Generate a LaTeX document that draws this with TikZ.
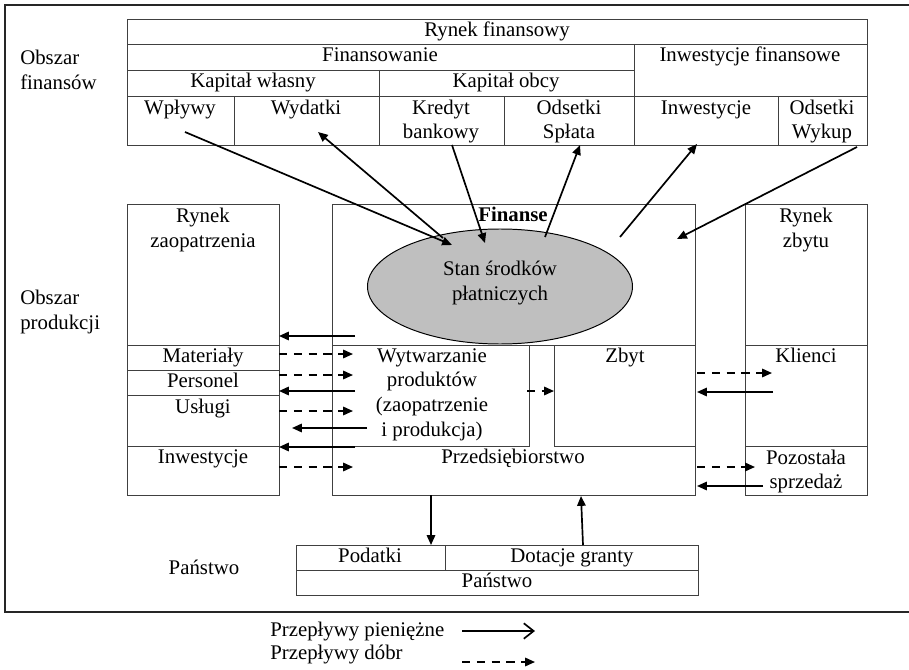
\documentclass[tikz,border=0pt]{standalone}
\usepackage{fontspec}
\setmainfont{Liberation Serif}
\usetikzlibrary{arrows.meta}
\begin{document}
\begin{tikzpicture}[x=0.025cm,y=-0.025cm,
    mtxt/.style={inner sep=0pt,align=center,font=\fontsize{14.8}{17.5}\selectfont},
    txt/.style={mtxt,text height=0.85em,text depth=0.22em},
    grid/.style={draw=black!75,line width=0.7pt},
    money/.style={line width=1.2pt,-{Triangle[length=7pt,width=6pt]}},
    goods/.style={money,dash pattern=on 6pt off 4.5pt}]
    \useasboundingbox (0,0) rectangle (909,670);
    % frame
    \draw[line width=1.4pt,black!85] (915,5) -- (5,5) -- (5,612) -- (915,612);
    % obszar finansow
    \node[mtxt,align=left,anchor=west] (obfin) at (20,70) {Obszar\\finansów};
    \draw[grid] (127,19) rectangle (867,145);
    \draw[grid] (127,44) -- (867,44) (127,70) -- (634,70) (127,96) -- (867,96);
    \draw[grid] (634,44) -- (634,145) (379,70) -- (379,145)
                (234,96) -- (234,145) (504,96) -- (504,145) (778,96) -- (778,145);
    \node[txt] (rynfin) at (497,32) {Rynek finansowy};
    \node[txt] (finans) at (380,57) {Finansowanie};
    \node[txt] (invfin) at (750,57) {Inwestycje finansowe};
    \node[txt] (kapwl) at (253,83) {Kapitał własny};
    \node[txt] (kapob) at (506,83) {Kapitał obcy};
    \node[txt] (wplywy) at (180,110) {Wpływy};
    \node[txt] (wydatki) at (306,110) {Wydatki};
    \node[mtxt] (kredyt) at (441,121.5) {Kredyt\\bankowy};
    \node[mtxt] (splata) at (569,121.5) {Odsetki\\Spłata};
    \node[txt] (invest) at (706,110) {Inwestycje};
    \node[mtxt] (wykup) at (822,121.5) {Odsetki\\Wykup};
    % obszar produkcji
    \node[mtxt,align=left,anchor=west] (obprod) at (20,312) {Obszar\\produkcji};
    \draw[grid] (127,204) rectangle (279,495);
    \draw[grid] (127,345) -- (279,345) (127,370) -- (279,370)
                (127,395) -- (279,395) (127,446) -- (279,446);
    \node[mtxt] (rynzao) at (203,230) {Rynek\\zaopatrzenia};
    \node[txt] (mater) at (203,358) {Materiały};
    \node[txt] (perso) at (203,383) {Personel};
    \node[txt] (uslugi) at (203,409) {Usługi};
    \node[txt] (inwzao) at (203,459) {Inwestycje};
    \draw[grid] (332,204) rectangle (695,495);
    \draw[grid] (332,345) -- (695,345);
    \draw[grid] (529,345) -- (529,446) -- (332,446);
    \draw[grid] (554,345) -- (554,446) -- (695,446);
    \node[txt,font=\fontsize{14.8}{17.5}\selectfont\bfseries] (finanse) at (513,217) {Finanse};
    \draw[fill=black!25,line width=0.7pt] (500,286.5) ellipse [x radius=132.5,y radius=57.5];
    \node[mtxt] (stan) at (500,283) {Stan środków\\płatniczych};
    \node[mtxt] (wytw) at (432,394.5) {Wytwarzanie\\produktów\\(zaopatrzenie\\i produkcja)};
    \node[txt] (zbyt) at (625,358) {Zbyt};
    \node[txt] (przeds) at (513,459) {Przedsiębiorstwo};
    \draw[grid] (745,204) rectangle (867,495);
    \draw[grid] (745,345) -- (867,345) (745,446) -- (867,446);
    \node[mtxt] (rynzby) at (806,230) {Rynek\\zbytu};
    \node[txt] (klienci) at (806,358) {Klienci};
    \node[mtxt] (pozost) at (806,471.5) {Pozostała\\sprzedaż};
    % panstwo
    \node[txt] (panlab) at (204,570) {Państwo};
    \draw[grid] (296,545) rectangle (698,595);
    \draw[grid] (296,570) -- (698,570) (445,545) -- (445,570);
    \node[txt] (podatki) at (370,558) {Podatki};
    \node[txt] (dotacje) at (572,558) {Dotacje granty};
    \node[txt] (panstwo) at (497,583) {Państwo};
    % arrow ends
    \coordinate (wp1) at (185,132);  \coordinate (wp2) at (452,245);
    \coordinate (wy1) at (443,238);  \coordinate (wy2) at (318,132);
    \coordinate (kr1) at (452,145);  \coordinate (kr2) at (485,243);
    \coordinate (sp1) at (545,237);  \coordinate (sp2) at (580,145);
    \coordinate (in1) at (620,237);  \coordinate (in2) at (697,144);
    \coordinate (wk1) at (857,147);  \coordinate (wk2) at (677,239);
    \draw[money] (wp1) -- (wp2);
    \draw[money] (wy1) -- (wy2);
    \draw[money] (kr1) -- (kr2);
    \draw[money] (sp1) -- (sp2);
    \draw[money] (in1) -- (in2);
    \draw[money] (wk1) -- (wk2);
    % zaopatrzenie
    \foreach \y in {336,391,447}
        \draw[money] (355,\y) -- (279,\y);
    \draw[money] (367,428) -- (292,428);
    \foreach \y in {354,375,411,467}
        \draw[goods] (279,\y) -- (353,\y);
    \draw[goods] (527,391) -- (554,391);
    % zbyt
    \draw[goods] (697,373) -- (772,373);
    \draw[money] (773,392) -- (697,392);
    \draw[goods] (697,467) -- (755,467);
    \draw[money] (763,486) -- (697,486);
    % panstwo
    \draw[money] (431,495) -- (431,545);
    \draw[money] (583,545) -- (581,496);
    % legend
    \node[txt,anchor=west] (legm) at (270,632) {Przepływy pieniężne};
    \node[txt,anchor=west] (legg) at (270,655) {Przepływy dóbr};
    \coordinate (lm1) at (462,631); \coordinate (lm2) at (535,631);
    \coordinate (lg1) at (462,662); \coordinate (lg2) at (535,662);
    \draw[line width=1.2pt,-{Straight Barb[length=7pt,width=11pt]}] (lm1) -- (lm2);
    \draw[goods] (lg1) -- (lg2);
\end{tikzpicture}
\end{document}
